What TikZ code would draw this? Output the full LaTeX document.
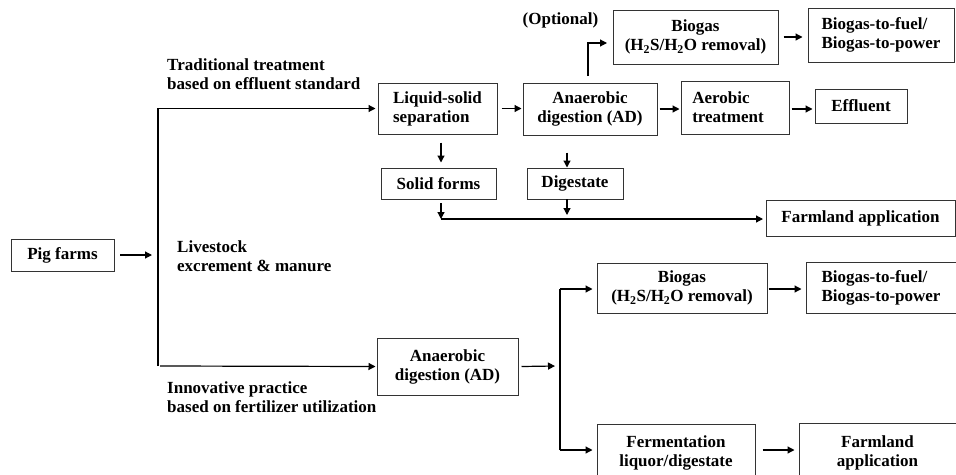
\documentclass[tikz,border=0pt]{standalone}
\usepackage{fontspec}
\setmainfont{Liberation Serif}
\usetikzlibrary{arrows.meta}
\begin{document}
\begin{tikzpicture}[x=1pt,y=-1pt,
  box/.style={draw=black!80,line width=1pt,inner sep=0pt,align=center,font=\bfseries\fontsize{17}{19}\selectfont},
  lbl/.style={inner sep=0pt,align=left,font=\bfseries\fontsize{17}{19}\selectfont},
  arr/.style={line width=1.2pt,-{Triangle[length=7pt,width=7pt]}},
  ln/.style={line width=1.2pt}]
\useasboundingbox (0,0) rectangle (956,474);
% boxes
\node[box,minimum width=103pt,minimum height=32pt] (pig) at (62.5,255) {Pig farms};
\node[box,minimum width=119pt,minimum height=51pt,align=left] (ls) at (437.5,108.5) {Liquid-solid\\separation};
\node[box,minimum width=134pt,minimum height=52pt] (ad1) at (590,109) {Anaerobic\\digestion (AD)};
\node[box,minimum width=108pt,minimum height=53pt,align=left] (aer) at (735,107.5) {Aerobic\\treatment\hspace*{14pt}};
\node[box,minimum width=92pt,minimum height=34pt] (eff) at (861,106) {Effluent};
\node[box,minimum width=165pt,minimum height=54pt] (bg1) at (695.5,37) {Biogas\\(H\textsubscript{2}S/H\textsubscript{2}O removal)};
\node[box,minimum width=146pt,minimum height=54pt,align=left] (bf1) at (881,35) {Biogas-to-fuel/\\Biogas-to-power};
\node[box,minimum width=115pt,minimum height=31pt] (sf) at (438.5,183.5) {Solid forms};
\node[box,minimum width=96pt,minimum height=31pt] (dg) at (575,183.5) {Digestate};
\node[box,minimum width=189pt,minimum height=36pt] (fa1) at (860.5,218) {Farmland application};
\node[box,minimum width=141pt,minimum height=57pt] (ad2) at (447.5,366.5) {Anaerobic\\digestion (AD)};
\node[box,minimum width=170pt,minimum height=50pt] (bg2) at (682,288) {Biogas\\(H\textsubscript{2}S/H\textsubscript{2}O removal)};
\node[box,minimum width=150pt,minimum height=51pt,align=left] (bf2) at (881,287.5) {Biogas-to-fuel/\\Biogas-to-power};
\node[box,minimum width=158pt,minimum height=58pt] (fe) at (676,453) {Fermentation\\liquor/digestate};
\node[box,minimum width=157pt,minimum height=58pt] (fa2) at (877.5,452.5) {Farmland\\application};
% labels
\node[lbl] (opt) at (560.5,20) {(Optional)};
\node[lbl,anchor=west] (trad) at (167,74.5) {Traditional treatment\\based on effluent standard};
\node[lbl,anchor=west] (live) at (177,256) {Livestock\\excrement \& manure};
\node[lbl,anchor=west] (inno) at (167,397) {Innovative practice\\based on fertilizer utilization};
% coordinates
\coordinate (pigE) at (120,255);
\coordinate (trk) at (152,255);
\coordinate (tA) at (158,108);
\coordinate (tB) at (158,366);
\coordinate (up0) at (588,76);
\coordinate (up1) at (607,43);
\coordinate (sfd) at (441,203);
\coordinate (sfj) at (441,219);
\coordinate (dgd) at (567,199);
\coordinate (dgj) at (567,215);
\coordinate (fa1w) at (763,219);
\coordinate (sp) at (555,366);
\coordinate (spT) at (560,289);
\coordinate (spB) at (560,450);
% connectors
\draw[arr] (pigE) -- (trk);
\draw[arr] (tB) |- ([xshift=-2pt]ls.west);
\draw[arr] ([xshift=2pt]tB) -- ([xshift=-1pt]ad2.west);
\draw[arr] ([xshift=4pt]ls.east) -- ([xshift=-1pt]ad1.west |- ls.east);
\draw[arr] ([xshift=2pt]ad1.east) -- ([xshift=-1pt]aer.west |- ad1.east);
\draw[arr] ([xshift=2pt]aer.east |- ad1.east) -- ([xshift=-2pt]eff.west |- ad1.east);
\draw[arr] (up0) |- (up1);
\draw[arr] ([xshift=5pt]bg1.east) -- ([xshift=-5pt]bf1.west |- bg1.east);
\draw[arr] ([yshift=-8pt]ls.south -| sfd) -- ([yshift=5pt]sf.north -| sfd);
\draw[arr] ([yshift=-17pt]ad1.south -| dgd) -- ([yshift=0pt]dg.north -| dgd);
\draw[arr] (sfd) -- (sfj);
\draw[arr] (sfj) -- (fa1w);
\draw[arr] (dgd) -- (dgj);
\draw[arr] ([xshift=3pt]ad2.east) -- (sp);
\draw[ln] (spB) -- (spT);
\draw[arr] (spT) -- ([xshift=-4pt]bg2.west |- spT);
\draw[arr] (spB) -- ([xshift=-4pt]fe.west |- spB);
\draw[arr] ([xshift=1pt]bg2.east |- spT) -- ([xshift=-4pt]bf2.west |- spT);
\draw[arr] ([xshift=7pt]fe.east |- spB) -- ([xshift=-4pt]fa2.west |- spB);
\end{tikzpicture}
\end{document}
